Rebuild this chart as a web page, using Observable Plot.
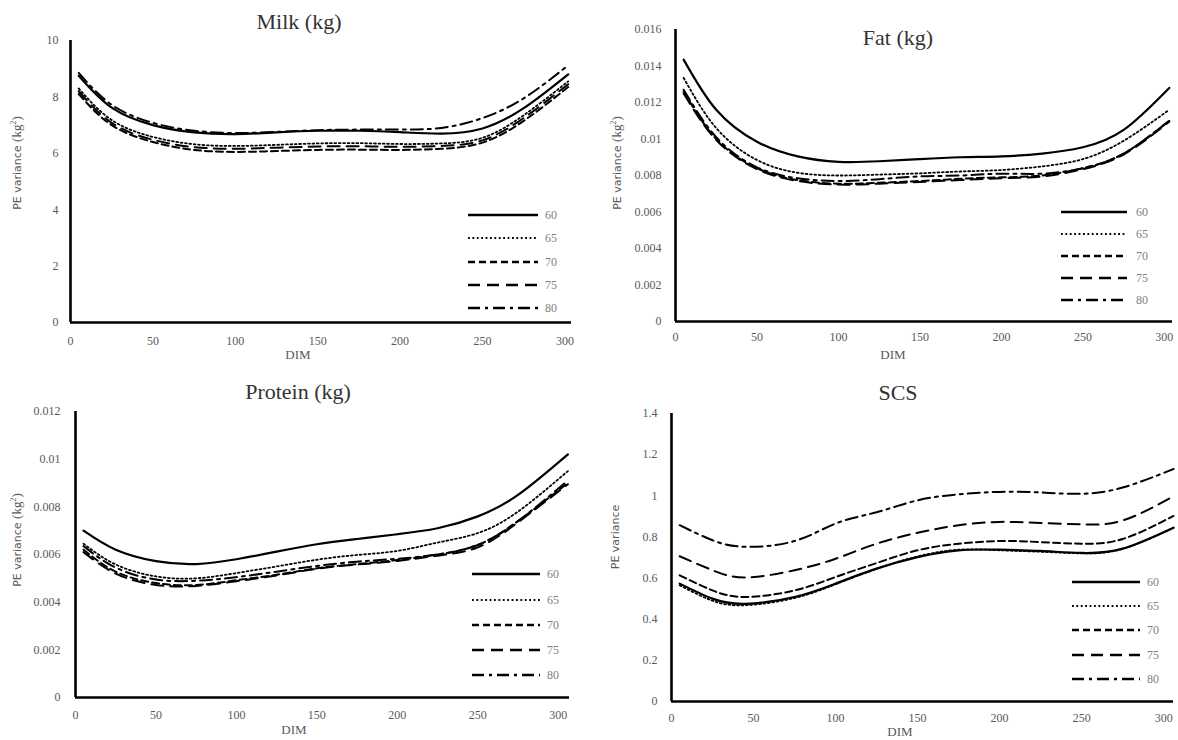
<!DOCTYPE html>
<html><head><meta charset="utf-8">
<script src="https://cdn.jsdelivr.net/npm/d3@7"></script>
<script src="https://cdn.jsdelivr.net/npm/@observablehq/plot@0.6"></script>
<style>
body{margin:0;background:#fff;}
#wrap{position:relative;width:1178px;height:740px;overflow:hidden;background:#fff;}
.panel{position:absolute;width:589px;height:370px;}
.lbl{position:absolute;transform:translate(-50%,-50%);white-space:nowrap;}
.title{font-family:"Liberation Serif",serif;font-size:22px;font-weight:normal;color:#333;}
.dim{font-family:"Liberation Serif",serif;font-size:13px;color:#595959;}
.ylab{font-family:"DejaVu Sans",sans-serif;font-size:11px;color:#595959;transform:translate(-50%,-50%) rotate(-90deg);}
.ylab span{font-family:"Liberation Serif",serif;font-size:13px;}
#overlay{position:absolute;left:0;top:0;pointer-events:none;}
</style></head><body><div id="wrap"></div>
<script>
// ---------- data ----------
const seriesKeys = ["60", "65", "70", "75", "80"];
const xTicks = [0, 50, 100, 150, 200, 250, 300];

// Milk (kg)
const milkDIM = [5, 25, 50, 75, 100, 125, 150, 175, 200, 225, 250, 275, 302];
const milk60 = [8.75, 7.62, 7.00, 6.74, 6.68, 6.74, 6.80, 6.80, 6.75, 6.70, 6.88, 7.60, 8.80];
const milk65 = [8.30, 7.18, 6.58, 6.32, 6.26, 6.30, 6.35, 6.36, 6.33, 6.35, 6.55, 7.35, 8.55];
const milk70 = [8.10, 7.00, 6.40, 6.12, 6.05, 6.08, 6.12, 6.13, 6.12, 6.16, 6.38, 7.15, 8.35];
const milk75 = [8.20, 7.08, 6.48, 6.22, 6.16, 6.20, 6.24, 6.25, 6.23, 6.26, 6.46, 7.25, 8.45];
const milk80 = [8.85, 7.72, 7.08, 6.80, 6.72, 6.76, 6.82, 6.84, 6.84, 6.90, 7.25, 7.95, 9.12];
const milkYTicks = [0, 2, 4, 6, 8, 10];

// Fat (kg)
const fatDIM = [5, 25, 50, 75, 100, 125, 150, 175, 200, 225, 250, 275, 303];
const fat60 = [0.01435, 0.0116, 0.00985, 0.00905, 0.00875, 0.00878, 0.0089, 0.0090, 0.00905, 0.0092, 0.00955, 0.0105, 0.0128];
const fat65 = [0.01335, 0.0106, 0.00885, 0.00815, 0.0080, 0.00805, 0.00812, 0.00822, 0.0083, 0.0085, 0.0089, 0.0099, 0.0116];
const fat70 = [0.0126, 0.0100, 0.0084, 0.00775, 0.00755, 0.0076, 0.0077, 0.00782, 0.0079, 0.0080, 0.0084, 0.0092, 0.0110];
const fat75 = [0.0125, 0.00995, 0.00835, 0.0077, 0.0075, 0.00755, 0.00765, 0.00775, 0.00785, 0.00795, 0.00835, 0.00915, 0.01095];
const fat80 = [0.0127, 0.0101, 0.00845, 0.00785, 0.0077, 0.0078, 0.00795, 0.0080, 0.0081, 0.0081, 0.0084, 0.0092, 0.0110];
const fatYTicks = [0, 0.002, 0.004, 0.006, 0.008, 0.01, 0.012, 0.014, 0.016];

// Protein (kg)
const protDIM = [5, 25, 50, 75, 100, 125, 150, 175, 200, 225, 250, 275, 306];
const prot60 = [0.0070, 0.0062, 0.00572, 0.0056, 0.0058, 0.00612, 0.00643, 0.00665, 0.00685, 0.0071, 0.0076, 0.0085, 0.0102];
const prot65 = [0.00645, 0.00558, 0.00508, 0.0050, 0.00522, 0.0055, 0.00578, 0.00598, 0.00615, 0.0065, 0.0069, 0.0078, 0.0095];
const prot70 = [0.0062, 0.00528, 0.0048, 0.00472, 0.00492, 0.00515, 0.00542, 0.0056, 0.00577, 0.0060, 0.0064, 0.0074, 0.0090];
const prot75 = [0.0061, 0.0052, 0.00472, 0.00468, 0.00488, 0.00512, 0.0054, 0.00558, 0.00573, 0.00595, 0.0063, 0.00735, 0.00895];
const prot80 = [0.00635, 0.00545, 0.00495, 0.0049, 0.00505, 0.00528, 0.00552, 0.0057, 0.00582, 0.0060, 0.0064, 0.0074, 0.0091];
const protYTicks = [0, 0.002, 0.004, 0.006, 0.008, 0.01, 0.012];

// SCS
const scsDIM = [5, 25, 45, 75, 100, 125, 150, 175, 200, 225, 250, 275, 306];
const scs60 = [0.573, 0.500, 0.475, 0.508, 0.573, 0.646, 0.702, 0.735, 0.738, 0.732, 0.722, 0.743, 0.845];
const scs65 = [0.565, 0.490, 0.468, 0.503, 0.570, 0.645, 0.705, 0.738, 0.735, 0.728, 0.720, 0.742, 0.845];
const scs70 = [0.613, 0.540, 0.508, 0.540, 0.605, 0.673, 0.735, 0.767, 0.780, 0.775, 0.767, 0.790, 0.902];
const scs75 = [0.706, 0.638, 0.603, 0.638, 0.694, 0.767, 0.820, 0.857, 0.873, 0.868, 0.861, 0.880, 0.998];
const scs80 = [0.857, 0.784, 0.752, 0.780, 0.865, 0.920, 0.978, 1.007, 1.019, 1.016, 1.010, 1.040, 1.130];
const scsYTicks = [0, 0.2, 0.4, 0.6, 0.8, 1, 1.2, 1.4];

// ---------- styles ----------
const lineStyle = {
  "60": {dash: null, width: 2.2},
  "65": {dash: "1.8,2.6", width: 1.8},
  "70": {dash: "7,4", width: 2},
  "75": {dash: "12,7", width: 2},
  "80": {dash: "12,5,3,5", width: 2}
};

// ---------- layout ----------
const panels = [
  {title: "Milk (kg)", dim: milkDIM, vals: [milk60, milk65, milk70, milk75, milk80], yTicks: milkYTicks,
   xMax: 304, left: 0, top: 0, m: {l: 70, t: 40, b: 48, r: 18}, pad: {x: 14, y: 12},
   titlePos: [299, 22], dimPos: [298, 355], ylab: {unit: true, x: 17, y: 163},
   legend: {x1: 468, x2: 538, tx: 545, ys: [215, 238, 262, 285, 308]}},
  {title: "Fat (kg)", dim: fatDIM, vals: [fat60, fat65, fat70, fat75, fat80], yTicks: fatYTicks,
   xMax: 305, left: 589, top: 0, m: {l: 86, t: 29, b: 49, r: 6}, pad: {x: 11, y: 14},
   titlePos: [898, 38], dimPos: [893, 355], ylab: {unit: true, x: 617, y: 163},
   legend: {x1: 1061, x2: 1127, tx: 1136, ys: [212, 234, 256, 278, 300]}},
  {title: "Protein (kg)", dim: protDIM, vals: [prot60, prot65, prot70, prot75, prot80], yTicks: protYTicks,
   xMax: 307, left: 0, top: 370, m: {l: 75, t: 41, b: 43, r: 20}, pad: {x: 13, y: 15},
   titlePos: [298, 392], dimPos: [294, 730], ylab: {unit: true, x: 17, y: 540},
   legend: {x1: 472, x2: 540, tx: 547, ys: [574, 600, 625, 650, 675]}},
  {title: "SCS", dim: scsDIM, vals: [scs60, scs65, scs70, scs75, scs80], yTicks: scsYTicks,
   xMax: 306, left: 589, top: 370, m: {l: 82, t: 43, b: 39, r: 5}, pad: {x: 12, y: 14},
   titlePos: [898, 393], dimPos: [900, 732], ylab: {unit: false, x: 615, y: 537},
   legend: {x1: 1072, x2: 1140, tx: 1147, ys: [582, 606, 630, 655, 679]}}
];

const wrap = document.getElementById("wrap");

function addLabel(cls, html, x, y) {
  const d = document.createElement("div");
  d.className = "lbl " + cls;
  d.innerHTML = html;
  d.style.left = x + "px";
  d.style.top = y + "px";
  wrap.appendChild(d);
}

for (const p of panels) {
  const marks = [];
  seriesKeys.forEach((k, i) => {
    const rows = p.dim.map((x, j) => ({x, y: p.vals[i][j]}));
    const st = lineStyle[k];
    marks.push(Plot.line(rows, {x: "x", y: "y", stroke: "black", strokeWidth: st.width,
      strokeDasharray: st.dash || undefined, curve: "natural"}));
  });
  marks.push(Plot.ruleX([0], {stroke: "black", strokeWidth: 2.6}));
  marks.push(Plot.ruleY([0], {stroke: "black", strokeWidth: 2.6}));
  const chart = Plot.plot({
    width: 589, height: 370,
    marginLeft: p.m.l, marginTop: p.m.t, marginBottom: p.m.b, marginRight: p.m.r,
    style: {fontFamily: "Liberation Serif, serif", fontSize: "12px", color: "#595959", background: "transparent", overflow: "visible"},
    x: {domain: [0, p.xMax], ticks: xTicks, tickSize: 0, tickPadding: p.pad.x, label: null},
    y: {domain: [0, p.yTicks[p.yTicks.length - 1]], ticks: p.yTicks, tickSize: 0, tickPadding: p.pad.y, label: null, tickFormat: d => String(d)},
    marks
  });
  d3.select(chart).selectAll("text").attr("font-family", "Liberation Serif, serif").attr("font-size", 12);
  const div = document.createElement("div");
  div.className = "panel";
  div.style.left = p.left + "px";
  div.style.top = p.top + "px";
  div.appendChild(chart);
  wrap.appendChild(div);

  addLabel("title", p.title, p.titlePos[0], p.titlePos[1]);
  addLabel("dim", "DIM", p.dimPos[0], p.dimPos[1]);
  addLabel("ylab", p.ylab.unit ? "PE variance <span>(kg<sup style=\"font-size:8px\">2</sup>)</span>" : "PE variance", p.ylab.x, p.ylab.y);
}

// legends
const overlay = d3.select(wrap).append("svg").attr("id", "overlay").attr("width", 1178).attr("height", 740);
for (const p of panels) {
  seriesKeys.forEach((k, i) => {
    const st = lineStyle[k];
    const y = p.legend.ys[i];
    overlay.append("line")
      .attr("x1", p.legend.x1).attr("x2", p.legend.x2).attr("y1", y).attr("y2", y)
      .attr("stroke", "black").attr("stroke-width", st.width + 0.4)
      .attr("stroke-dasharray", st.dash);
    overlay.append("text")
      .attr("x", p.legend.tx).attr("y", y).attr("dy", "0.35em")
      .attr("font-family", "Liberation Serif, serif").attr("font-size", 12)
      .attr("fill", "#7f7f7f").text(k);
  });
}
</script>
</body></html>
